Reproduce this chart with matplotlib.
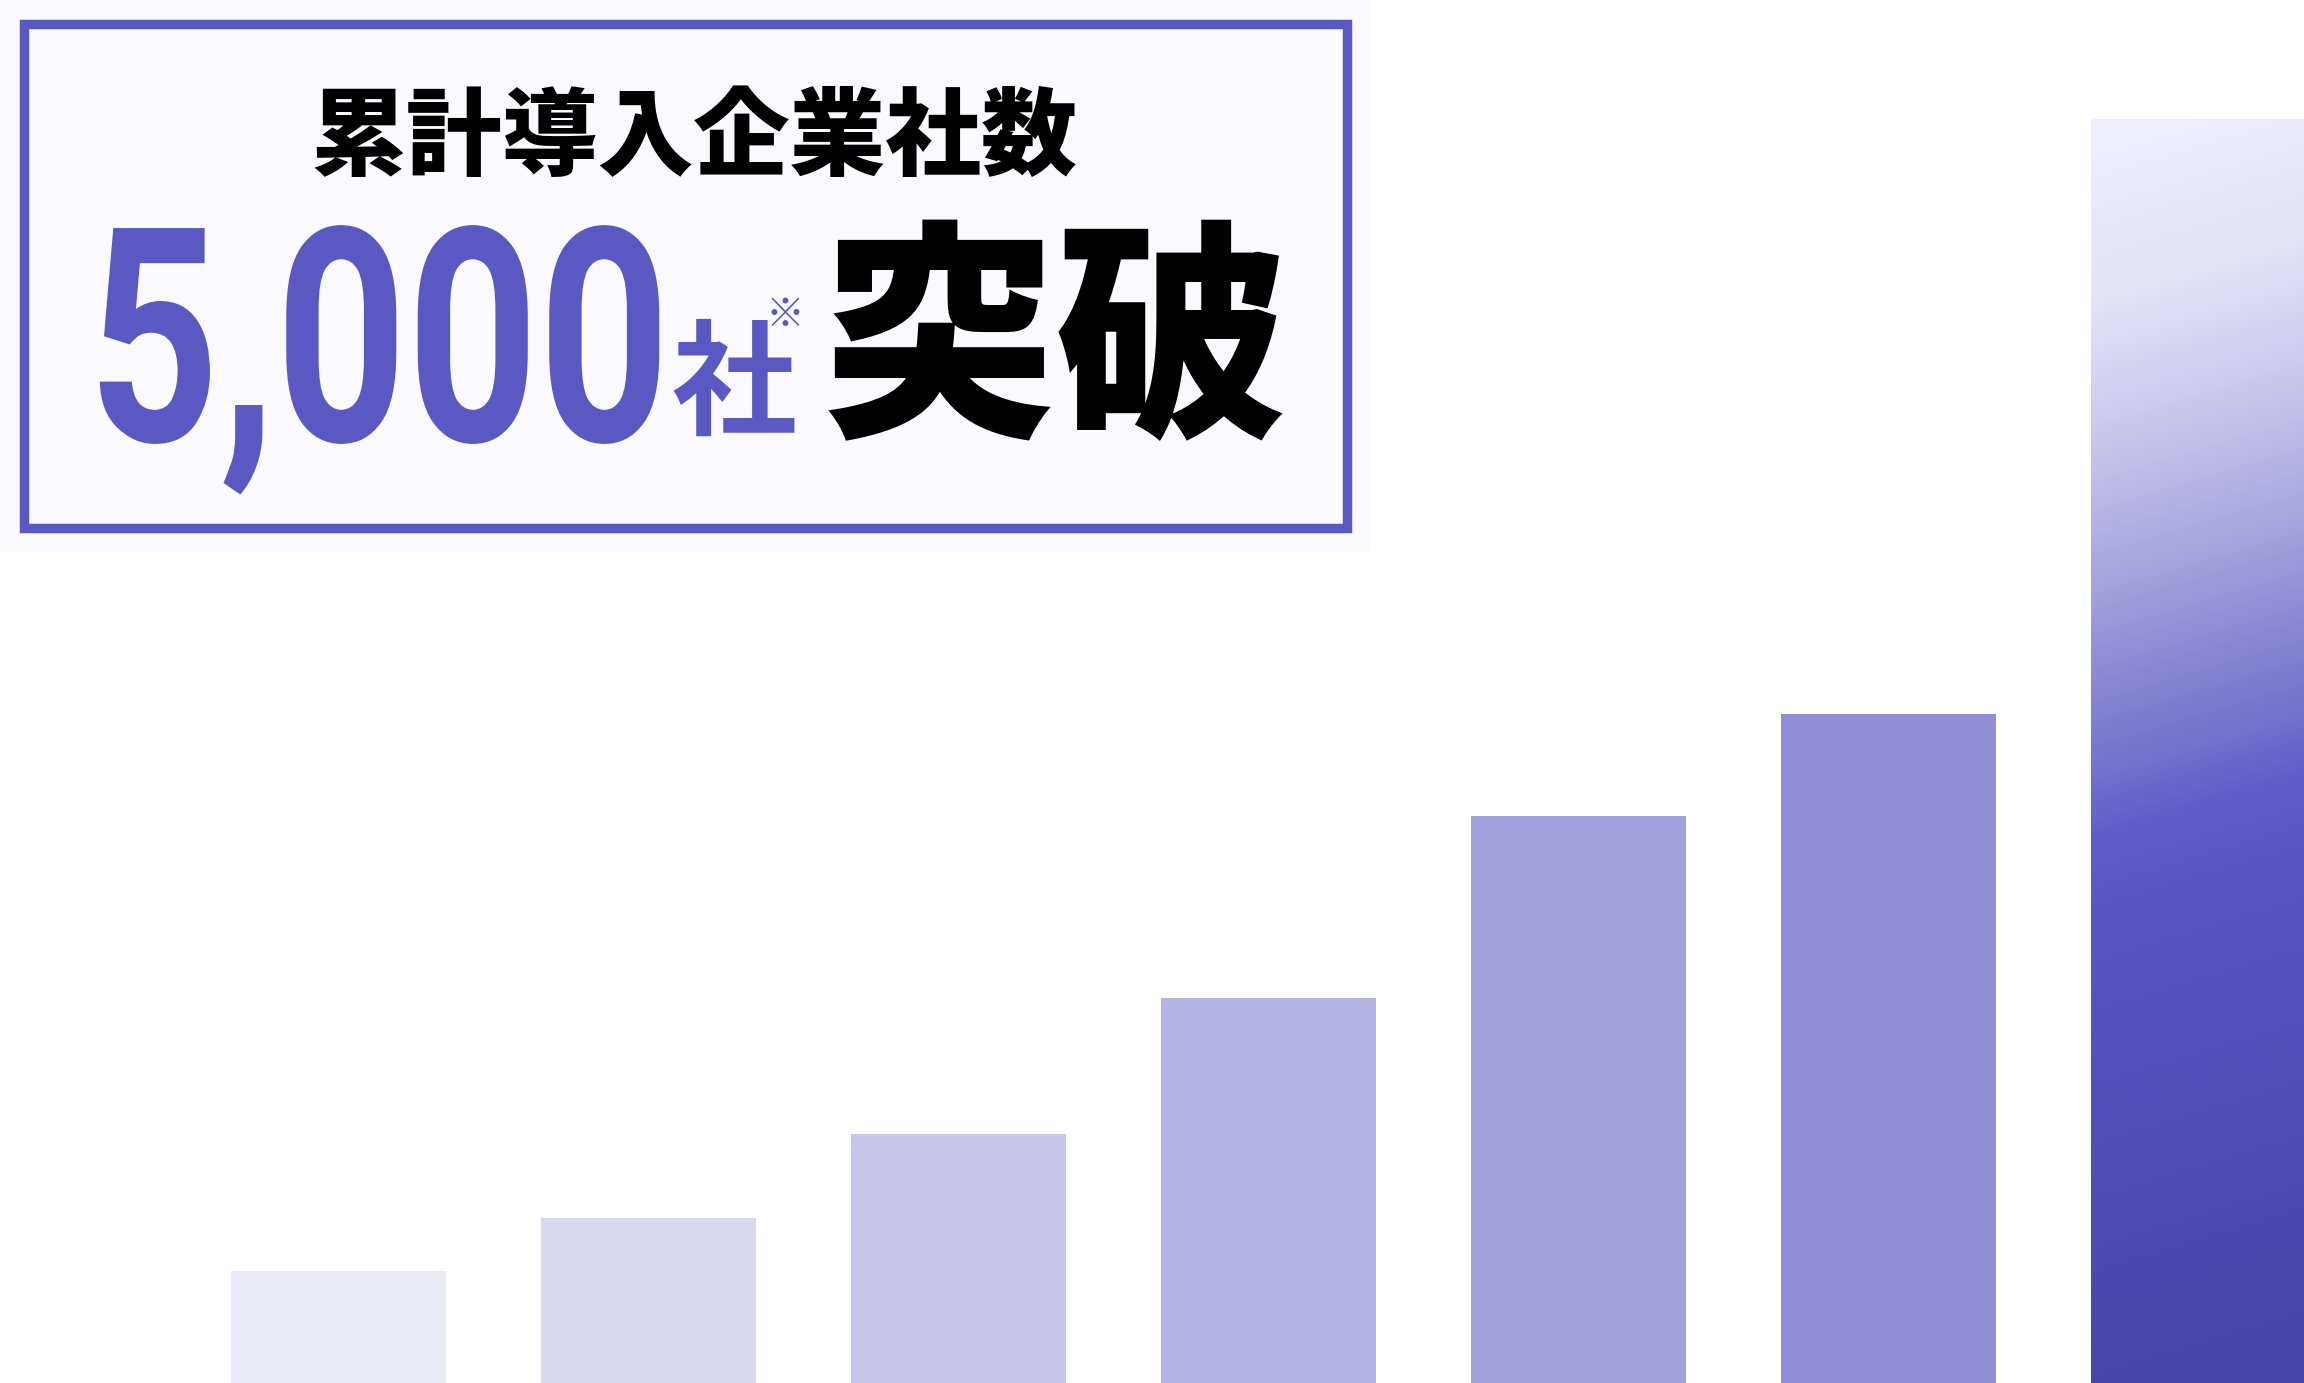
import matplotlib
matplotlib.use("Agg")
import matplotlib.pyplot as plt
import numpy as np
from matplotlib.patches import Rectangle
from matplotlib.colors import LinearSegmentedColormap
from matplotlib.patheffects import AbstractPathEffect
from matplotlib.transforms import Affine2D

# --- data ---
years = ["1", "2", "3", "4", "5", "6", "7"]
bar_heights = [112, 165, 249, 385, 567, 669, 1264]
bar_colors = ["#ebeaf7", "#d9d8f1", "#c7c5ea", "#b5b3e4", "#a3a1dd", "#928ed6"]

title_text = "累計導入企業社数"
count_text = "5,000"
unit_text = "社"
note_mark = "※"
break_text = "突破"

grad_stops = [
    (0.00, "#efeefc"),
    (0.12, "#e4e3f7"),
    (0.22, "#cdcaee"),
    (0.29, "#b8b5e5"),
    (0.36, "#a29fdd"),
    (0.43, "#8a86d4"),
    (0.50, "#7470cd"),
    (0.55, "#605dc7"),
    (0.60, "#5957c2"),
    (1.00, "#4845a8"),
]


class Stretch(AbstractPathEffect):
    """scale glyphs around the text's baseline-left point"""
    def __init__(self, sx=1.0, sy=1.0):
        super().__init__()
        self._sx, self._sy = sx, sy

    def draw_path(self, renderer, gc, tpath, affine, rgbFace=None):
        renderer.draw_path(gc, tpath, Affine2D().scale(self._sx, self._sy) + affine, rgbFace)


W, H = 2304, 1383
fig = plt.figure(figsize=(W / 100, H / 100), dpi=100)
fig.patch.set_facecolor("white")

# === bars ===
ax = fig.add_axes([0, 0, 1, 1])
x = np.arange(len(years))
bw = 0.692
ax.bar(x[:-1], bar_heights[:-1], width=bw, color=bar_colors, zorder=2)
last = ax.bar(x[-1], bar_heights[-1], width=bw, color="none", zorder=2)[0]

# gradient fill for the last bar (light at top, slight diagonal tilt)
cmap = LinearSegmentedColormap.from_list("grad", grad_stops)
ny, nx = 400, 60
yy, xx = np.mgrid[0:1:ny * 1j, 0:1:nx * 1j]
t = np.clip(yy + 0.05 * xx - 0.02, 0, 1)
img = ax.imshow(t, cmap=cmap, vmin=0, vmax=1, aspect="auto",
                extent=[x[-1] - bw / 2, x[-1] + bw / 2, 0, bar_heights[-1]],
                origin="upper", zorder=2, interpolation="bilinear")
img.set_clip_path(last)

ax.set_xlim(-1.0926, 6.3397)
ax.set_ylim(0, H)
ax.axis("off")

# === headline panel (pixel coords) ===
ov = fig.add_axes([0, 0, 1, 1])
ov.set_xlim(0, W)
ov.set_ylim(H, 0)
ov.axis("off")
ov.patch.set_alpha(0)

ov.add_patch(Rectangle((0, 0), 1371, 552, facecolor="#f9f9fe", edgecolor="none", zorder=1))
ov.add_patch(Rectangle((24, 24), 1323, 504, facecolor="none", edgecolor="#5a59c3",
                       linewidth=6.8, zorder=2, joinstyle="miter"))

cjk = ["Noto Sans CJK JP", "DejaVu Sans"]
purple = "#5a59c3"

ov.text(694, 139, title_text, family=cjk, fontsize=69, fontweight="heavy",
        color="black", ha="center", va="center", zorder=3)
ov.text(88, 441, count_text, family=["Roboto", "DejaVu Sans"],
        fontsize=165, fontweight="bold", color=purple, ha="left", va="baseline",
        zorder=3, path_effects=[Stretch(1.0, 1.307)])
ov.text(671, 425, unit_text, family=cjk, fontsize=90, fontweight="bold",
        color=purple, ha="left", va="baseline", zorder=3)
ov.text(785, 316, note_mark, family=cjk, fontsize=28, fontweight="normal",
        color=purple, ha="center", va="center", zorder=3)
ov.text(1056, 350, break_text, family=cjk, fontsize=168, fontweight="heavy",
        color="black", ha="center", va="center", zorder=3)

fig.savefig("out.png", dpi=100, facecolor="white")
